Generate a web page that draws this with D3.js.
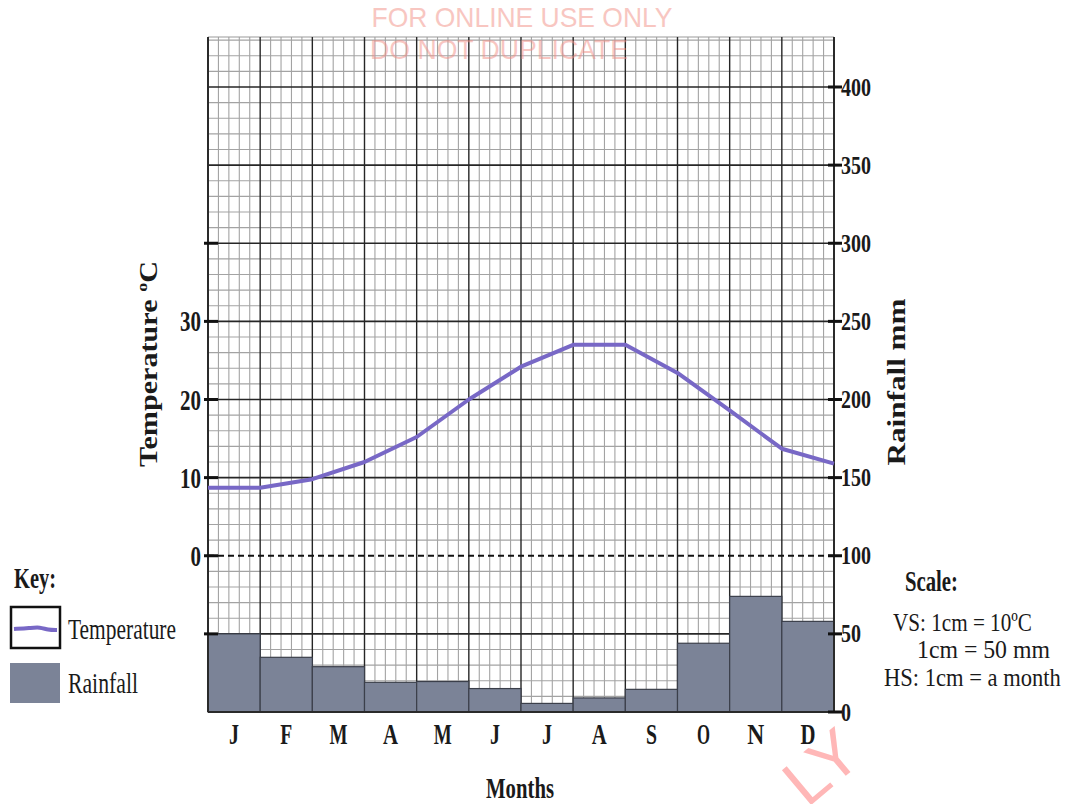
<!DOCTYPE html>
<html>
<head>
<meta charset="utf-8">
<script src="https://cdn.jsdelivr.net/npm/d3@7"></script>
<style>
  html, body { margin: 0; padding: 0; background: #fff; }
  svg { display: block; }
</style>
</head>
<body>
<svg id="chart" width="1066" height="804"></svg>
<script>
// ---------------- DATA ----------------
const monthNames = ["Jan","Feb","Mar","Apr","May","Jun","Jul","Aug","Sep","Oct","Nov","Dec"];
const monthLabels = ["J","F","M","A","M","J","J","A","S","O","N","D"];
// rainfall (mm) per month
const rainfall = [50, 35, 29, 19, 19.5, 15, 5.5, 9, 14.5, 44, 74, 58];
// temperature (°C) at the 13 month boundaries (start of Jan ... end of Dec)
const tempValues = [8.7, 8.7, 9.8, 12.0, 15.2, 20.0, 24.2, 27.0, 27.0, 23.4, 18.6, 13.7, 11.8];
const rainTicks = [0, 50, 100, 150, 200, 250, 300, 350, 400];
const tempTickLabels = [0, 10, 20, 30];
const tempTickMarks = [-10, 0, 10, 20, 30, 40];
const keyItems = ["Temperature", "Rainfall"];
const scaleLines = ["VS: 1cm = 10ºC", "1cm = 50 mm", "HS: 1cm = a month"];

// ---------------- SETUP ----------------
const svg = d3.select("#chart");
const serif = "'Liberation Serif', 'Times New Roman', serif";
const sans = "'Liberation Sans', Arial, sans-serif";

const x = d3.scaleBand().domain(monthNames).range([208, 834]).padding(0);
const yRain = d3.scaleLinear().domain([0, 400]).range([712, 87]);
const yTemp = d3.scaleLinear().domain([0, 30]).range([yRain(100), yRain(250)]);
const xBound = d3.scaleLinear().domain([0, 12]).range(x.range());
const topVal = 432;
const yTop = yRain(topVal);
const [x0, x1] = x.range();

const purple = "#7868c6";
const barFill = "#7b8397";

function fitText(opts) {
  const g = svg.append("g")
    .attr("transform", `translate(${opts.x},${opts.y}) rotate(${opts.rotate || 0})`);
  const t = g.append("text")
    .attr("font-family", opts.family || serif)
    .attr("font-size", opts.size)
    .attr("font-weight", opts.weight || "normal")
    .attr("text-anchor", opts.anchor || "start")
    .attr("fill", opts.fill || "#1a1a1a");
  if (opts.parts) {
    opts.parts.forEach(p => {
      const ts = t.append("tspan").text(p.t);
      if (p.sup) ts.attr("font-size", opts.size * 0.6).attr("dy", -opts.size * 0.4);
      if (p.down) ts.attr("dy", opts.size * 0.4);
    });
  } else t.text(opts.text);
  if (opts.opacity != null) t.attr("opacity", opts.opacity);
  if (opts.width) {
    const w = t.node().getComputedTextLength();
    t.attr("transform", `scale(${opts.width / w},1)`);
  }
  return t;
}

// ---------------- GRID ----------------
const grid = svg.append("g");
const minorH = d3.range(0, topVal, 10).filter(v => v % 50 !== 0);
grid.selectAll(".mh").data(minorH).join("line")
  .attr("x1", x0).attr("x2", x1)
  .attr("y1", d => yRain(d)).attr("y2", d => yRain(d))
  .attr("stroke", "#a3a3a3").attr("stroke-width", 1.1);
const minorV = d3.range(0, 60).filter(i => i % 5 !== 0).map(i => i / 5);
grid.selectAll(".mv").data(minorV).join("line")
  .attr("x1", d => xBound(d)).attr("x2", d => xBound(d))
  .attr("y1", yTop).attr("y2", yRain(0))
  .attr("stroke", "#a3a3a3").attr("stroke-width", 1.1);
grid.append("line").attr("x1", x0).attr("x2", x1).attr("y1", yTop).attr("y2", yTop)
  .attr("stroke", "#9a9a9a").attr("stroke-width", 1.2);
grid.selectAll(".MH").data(rainTicks.filter(d => d !== 100)).join("line")
  .attr("x1", x0).attr("x2", x1)
  .attr("y1", d => yRain(d)).attr("y2", d => yRain(d))
  .attr("stroke", "#262626").attr("stroke-width", 1.7);
grid.selectAll(".MV").data(d3.range(0, 13)).join("line")
  .attr("x1", d => xBound(d)).attr("x2", d => xBound(d))
  .attr("y1", yTop).attr("y2", yRain(0))
  .attr("stroke", "#262626").attr("stroke-width", d => (d === 0 || d === 12) ? 1.9 : 1.4);

// watermark (behind data)
fitText({x: 499, y: 59, text: "DO NOT DUPLICATE", size: 27, family: sans, anchor: "middle", width: 258, fill: "#f28f86", opacity: 0.5});

// ---------------- BARS ----------------
svg.append("g").selectAll("rect").data(rainfall).join("rect")
  .attr("x", (d, i) => x(monthNames[i]))
  .attr("width", x.bandwidth())
  .attr("y", d => yRain(d))
  .attr("height", d => yRain(0) - yRain(d))
  .attr("fill", barFill)
  .attr("stroke", "#3b3f4a").attr("stroke-width", 1.2);

// zero temperature dashed line
svg.append("line")
  .attr("x1", x0).attr("x2", x1)
  .attr("y1", yTemp(0)).attr("y2", yTemp(0))
  .attr("stroke", "#111").attr("stroke-width", 2.2)
  .attr("stroke-dasharray", "6,4");

// ---------------- AXES ----------------
svg.append("line").attr("x1", x0).attr("x2", x0).attr("y1", yTop).attr("y2", yRain(0))
  .attr("stroke", "#2a2a2a").attr("stroke-width", 2);
svg.append("line").attr("x1", x1).attr("x2", x1).attr("y1", yTop).attr("y2", yRain(0))
  .attr("stroke", "#2a2a2a").attr("stroke-width", 2);
svg.append("line").attr("x1", x0).attr("x2", x1).attr("y1", yRain(0)).attr("y2", yRain(0))
  .attr("stroke", "#2a2a2a").attr("stroke-width", 1.8);

// right ticks + labels
svg.selectAll(".rt").data(rainTicks).join("line")
  .attr("x1", x1 - 6).attr("x2", x1 + 8)
  .attr("y1", d => yRain(d)).attr("y2", d => yRain(d))
  .attr("stroke", "#111").attr("stroke-width", 3);
rainTicks.forEach(v => {
  const s = String(v);
  fitText({x: 841, y: yRain(v) + 8.5, text: s, size: 25, weight: "bold", width: s.length * 10});
});

// left ticks + labels
svg.selectAll(".lt").data(tempTickMarks).join("line")
  .attr("x1", x0 - 4).attr("x2", x0 + 10)
  .attr("y1", d => yTemp(d)).attr("y2", d => yTemp(d))
  .attr("stroke", "#111").attr("stroke-width", 3);
tempTickLabels.forEach(v => {
  const s = String(v);
  fitText({x: 201, y: yTemp(v) + 10, text: s, size: 30, weight: "bold", anchor: "end", width: s.length * 10.5});
});

// month labels
monthLabels.forEach((m, i) => {
  const w = {M: 18, A: 15, N: 17, D: 15, O: 13, S: 11, F: 12, J: 10}[m];
  fitText({x: x(monthNames[i]) + x.bandwidth() / 2, y: 744, text: m, size: 30, weight: "bold", anchor: "middle", width: w});
});

// axis titles
fitText({x: 520, y: 798, text: "Months", size: 29, weight: "bold", anchor: "middle", width: 68});
fitText({x: 157, y: 364, parts: [{t: "Temperature "}, {t: "o", sup: true}, {t: "C", down: true}], size: 26, weight: "bold", anchor: "middle", rotate: -90, width: 206});
fitText({x: 905, y: 382, text: "Rainfall mm", size: 26, weight: "bold", anchor: "middle", rotate: -90, width: 167});

// ---------------- TEMPERATURE LINE ----------------
const line = d3.line().x((d, i) => xBound(i)).y(d => yTemp(d));
svg.append("path").datum(tempValues)
  .attr("d", line)
  .attr("fill", "none")
  .attr("stroke", purple).attr("stroke-width", 4)
  .attr("stroke-linejoin", "round");

// ---------------- KEY ----------------
fitText({x: 14, y: 588, text: "Key:", size: 29, weight: "bold", width: 42});
svg.append("rect").attr("x", 11).attr("y", 607).attr("width", 49).attr("height", 41)
  .attr("fill", "#fff").attr("stroke", "#111").attr("stroke-width", 2.5);
svg.append("path")
  .attr("d", d3.line().curve(d3.curveBasis)([[14, 629], [30, 628], [40, 627], [48, 630], [57, 630]]))
  .attr("fill", "none").attr("stroke", purple).attr("stroke-width", 4);
fitText({x: 68, y: 639, text: keyItems[0], size: 29, width: 108});
svg.append("rect").attr("x", 10).attr("y", 663).attr("width", 50).attr("height", 40).attr("fill", barFill);
fitText({x: 68, y: 693, text: keyItems[1], size: 29, width: 70});

// ---------------- SCALE NOTE ----------------
fitText({x: 905, y: 591, text: "Scale:", size: 29, weight: "bold", width: 53});
fitText({x: 893, y: 631, text: scaleLines[0], size: 26, width: 139});
fitText({x: 917, y: 658, text: scaleLines[1], size: 26, width: 133});
fitText({x: 884, y: 686, text: scaleLines[2], size: 26, width: 177});

// ---------------- WATERMARKS ----------------
fitText({x: 522, y: 27, text: "FOR ONLINE USE ONLY", size: 27, family: sans, anchor: "middle", width: 301, fill: "#f7b9b2", opacity: 0.8});
fitText({x: 836, y: 784, text: "LY", size: 66, family: sans, anchor: "middle", rotate: -40, fill: "#ff9f9f", opacity: 0.75});
</script>
</body>
</html>
